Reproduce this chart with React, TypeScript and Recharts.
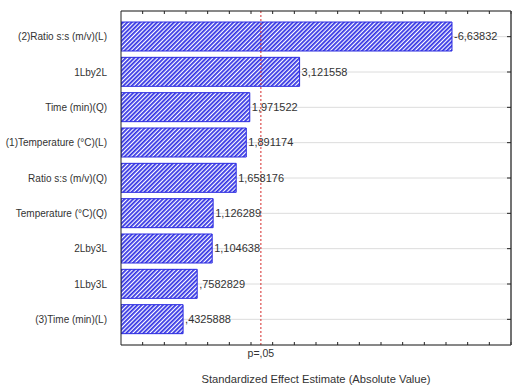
import React from 'react';
import {
  BarChart, Bar, XAxis, YAxis, CartesianGrid, ReferenceLine, LabelList,
} from 'recharts';

const categories = [
  '(2)Ratio s:s (m/v)(L)',
  '1Lby2L',
  'Time (min)(Q)',
  '(1)Temperature (°C)(L)',
  'Ratio s:s (m/v)(Q)',
  'Temperature (°C)(Q)',
  '2Lby3L',
  '1Lby3L',
  '(3)Time (min)(L)',
];
const effects = [6.63832, 3.121558, 1.971522, 1.891174, 1.658176, 1.126289, 1.104638, 0.7582829, 0.4325888];
const effectLabels = ['-6,63832', '3,121558', '1,971522', '1,891174', '1,658176', '1,126289', '1,104638', ',7582829', ',4325888'];
const xDomain: [number, number] = [-1, 8];
const minorTicks = [
  -1, -0.75, -0.5, -0.25, 0, 0.25, 0.5, 0.75, 1, 1.25, 1.5, 1.75, 2, 2.25, 2.5, 2.75,
  3, 3.25, 3.5, 3.75, 4, 4.25, 4.5, 4.75, 5, 5.25, 5.5, 5.75, 6, 6.25, 6.5, 6.75, 7, 7.25, 7.5, 7.75, 8,
];
const pCritical = 2.228;
const pLabel = 'p=,05';
const xTitle = 'Standardized Effect Estimate (Absolute Value)';

const data = categories.map((name, i) => ({ name, value: effects[i], range: [xDomain[0], effects[i]], label: effectLabels[i] }));

const FONT = '"Liberation Sans", Arial, sans-serif';
const BLUE = '#2a2ae0';

const EmptyTick = () => <g />;

const CatTick = (props: any) => {
  const { x, y, payload } = props;
  return (
    <text x={x - 6} y={y} dy="0.35em" textAnchor="end" fill="#333" fontSize={10} fontFamily={FONT}>
      {payload.value}
    </text>
  );
};

export default function App() {
  return (
    <div style={{ position: 'absolute', left: 0, top: 0, fontFamily: FONT }}>
      <BarChart
        width={520}
        height={390}
        data={data}
        layout="vertical"
        margin={{ top: 11, right: 9, bottom: 0, left: 0 }}
      >
        <defs>
          <pattern id="hatch" patternUnits="userSpaceOnUse" width="3" height="3" patternTransform="rotate(45)">
            <rect x="0" y="0" width="3" height="3" fill="#ffffff" />
            <line x1="0.9" y1="0" x2="0.9" y2="3" stroke="#3434e4" strokeWidth="1.8" />
          </pattern>
        </defs>
        <CartesianGrid yAxisId="main" xAxisId="main" vertical={false} stroke="#dcdcdc" />
        <XAxis
          xAxisId="main"
          type="number"
          domain={xDomain}
          ticks={minorTicks}
          allowDataOverflow
          tick={false}
          tickLine={false}
          axisLine={{ stroke: '#222' }}
          height={45}
          label={{ value: xTitle, position: 'insideBottom', offset: 7, fill: '#333', fontSize: 11.2, fontFamily: FONT }}
        />
        <XAxis
          xAxisId="bt"
          orientation="bottom"
          mirror
          type="number"
          domain={xDomain}
          ticks={minorTicks}
          allowDataOverflow
          tick={EmptyTick}
          tickSize={3}
          tickLine={{ stroke: '#222' }}
          axisLine={false}
        />
        <XAxis
          xAxisId="tp"
          orientation="top"
          mirror
          type="number"
          domain={xDomain}
          ticks={minorTicks}
          allowDataOverflow
          tick={EmptyTick}
          tickSize={3}
          tickLine={{ stroke: '#222' }}
          axisLine={{ stroke: '#222' }}
        />
        <YAxis
          yAxisId="main"
          type="category"
          dataKey="name"
          width={121}
          padding={{ top: 8, bottom: 8 }}
          tickLine={false}
          axisLine={{ stroke: '#222' }}
          tick={CatTick}
          interval={0}
        />
        <YAxis
          yAxisId="r"
          orientation="right"
          mirror
          type="category"
          dataKey="name"
          padding={{ top: 8, bottom: 8 }}
          tick={EmptyTick}
          tickSize={4}
          tickLine={{ stroke: '#222' }}
          axisLine={{ stroke: '#444', strokeWidth: 1.5 }}
          interval={0}
        />
        <Bar
          xAxisId="main"
          yAxisId="main"
          dataKey="range"
          barSize={29}
          fill="url(#hatch)"
          stroke={BLUE}
          strokeWidth={1}
          isAnimationActive={false}
        >
          <LabelList dataKey="label" position="right" offset={2} fill="#333" fontSize={11} fontFamily={FONT} />
        </Bar>
        <ReferenceLine
          xAxisId="main"
          yAxisId="main"
          x={pCritical}
          stroke="#d42a2a"
          strokeDasharray="2 2"
          label={{ value: pLabel, position: 'bottom', offset: 5, fill: '#333', fontSize: 10.5, fontFamily: FONT }}
        />
      </BarChart>
    </div>
  );
}
